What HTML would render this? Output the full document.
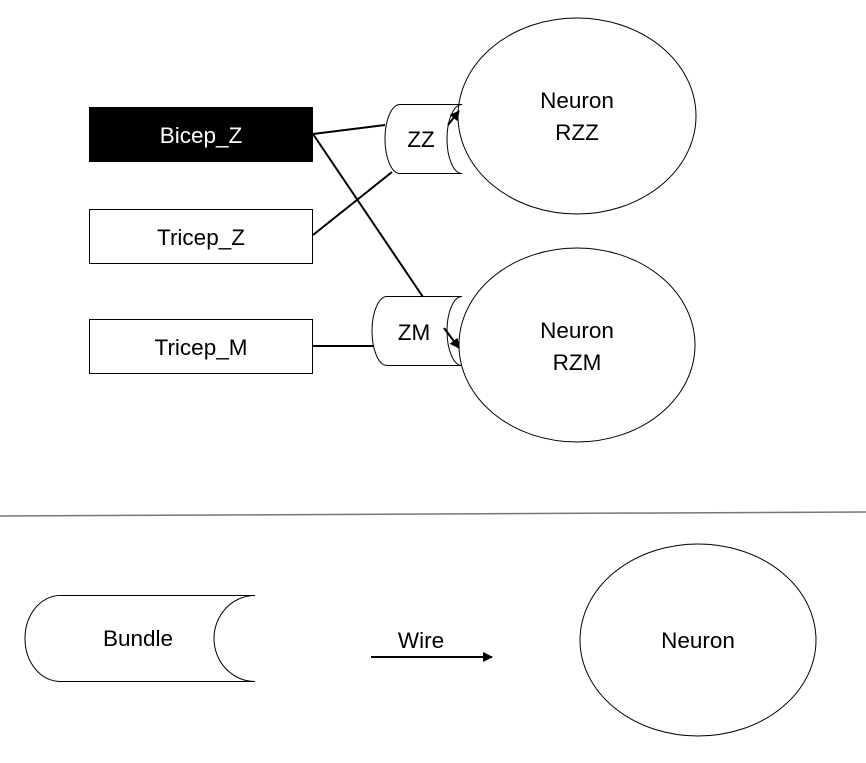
<!DOCTYPE html>
<html><head><style>body{margin:0;background:#fff}svg{display:block}</style></head><body>
<svg width="866" height="763" viewBox="0 0 866 763" xmlns="http://www.w3.org/2000/svg" font-family="Liberation Sans, sans-serif" font-size="22.5">
<defs><marker id="a" markerWidth="10" markerHeight="10" refX="9" refY="5" orient="auto" markerUnits="userSpaceOnUse"><path d="M0,0 L10,5 L0,10 z" fill="#000"/></marker></defs>
<rect x="89.5" y="107.5" width="223" height="54" fill="#000" stroke="#000"/>
<text x="201" y="143" fill="#fff" text-anchor="middle">Bicep_Z</text>
<rect x="89.5" y="209.5" width="223" height="54" fill="#fff" stroke="#000"/>
<text x="201" y="245" text-anchor="middle">Tricep_Z</text>
<rect x="89.5" y="319.5" width="223" height="54" fill="#fff" stroke="#000"/>
<text x="201" y="355" text-anchor="middle">Tricep_M</text>
<ellipse cx="577" cy="116" rx="119" ry="98" fill="#fff" stroke="#000"/>
<text x="577" y="108" text-anchor="middle">Neuron</text><text x="577" y="140" text-anchor="middle">RZZ</text>
<ellipse cx="577" cy="345" rx="118" ry="97" fill="#fff" stroke="#000"/>
<text x="577" y="338" text-anchor="middle">Neuron</text><text x="577" y="370" text-anchor="middle">RZM</text>
<path d="M400,104.5 H462 M400,173.5 H462 M400,104.5 A15,34.5 0 0 0 400,173.5 M462,104.5 A15,34.5 0 0 0 462,173.5" fill="none" stroke="#000"/>
<text x="421" y="147" text-anchor="middle">ZZ</text>
<path d="M387,296.5 H462 M387,365.5 H462 M387,296.5 A15,34.5 0 0 0 387,365.5 M462,296.5 A15,34.5 0 0 0 462,365.5" fill="none" stroke="#000"/>
<text x="414" y="340" text-anchor="middle">ZM</text>
<g stroke="#000" stroke-width="2" fill="none">
<line x1="313" y1="134" x2="385" y2="125"/>
<line x1="313" y1="134" x2="423" y2="297"/>
<line x1="313" y1="235" x2="392" y2="172"/>
<line x1="313" y1="346" x2="373" y2="346"/>
<line x1="448" y1="125" x2="459" y2="111" marker-end="url(#a)"/>
<line x1="444" y1="328" x2="459" y2="348" marker-end="url(#a)"/>
<line x1="371" y1="657" x2="492" y2="657" marker-end="url(#a)"/>
</g>
<line x1="0" y1="516" x2="866" y2="512" stroke="#777" stroke-width="1.5"/>
<path d="M60,595.5 H255 M60,681.5 H255 M60,595.5 A35,43 0 0 0 60,681.5 M255,595.5 A41,43 0 0 0 255,681.5" fill="none" stroke="#000"/>
<text x="138" y="646" text-anchor="middle">Bundle</text>
<text x="421" y="648" text-anchor="middle">Wire</text>
<ellipse cx="698" cy="640" rx="118" ry="96" fill="#fff" stroke="#000"/>
<text x="698" y="648" text-anchor="middle">Neuron</text>
</svg>
</body></html>
